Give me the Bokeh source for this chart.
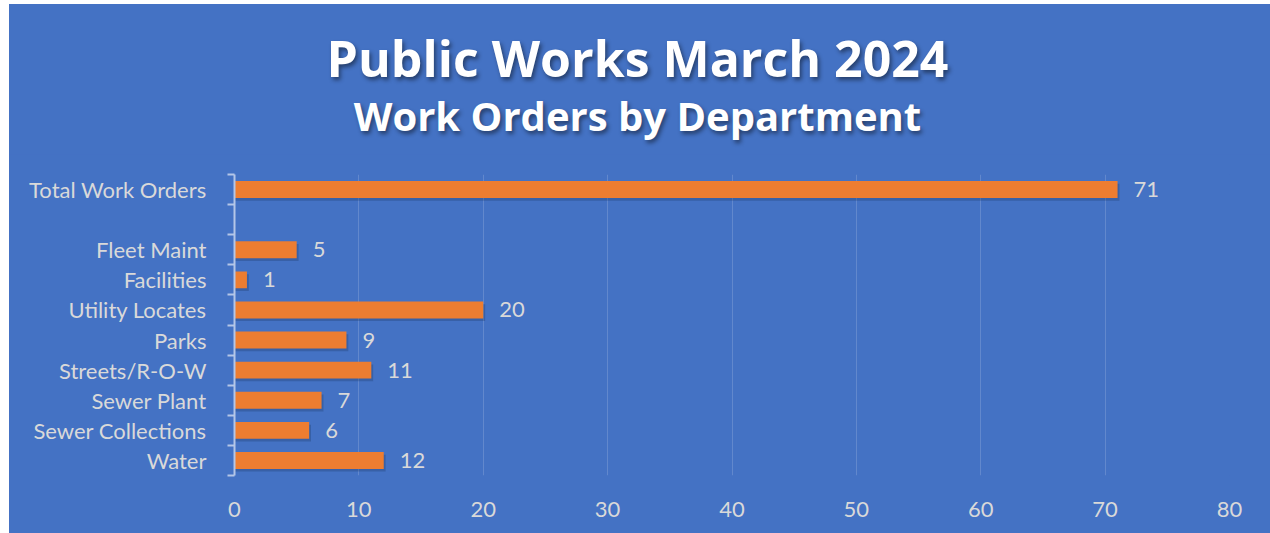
from bokeh.plotting import figure
from bokeh.models import (ColumnDataSource, LinearAxis, FixedTicker, Range1d, Div)
from bokeh.layouts import column
from bokeh.core.properties import value
from bokeh.embed import file_html
from bokeh.resources import INLINE

# data (bottom to top)
categories = ["Water", "Sewer Collections", "Sewer Plant", "Streets/R-O-W", "Parks",
              "Utility Locates", "Facilities", "Fleet Maint", "", "Total Work Orders"]
counts = [12, 6, 7, 11, 9, 20, 1, 5, None, 71]
x_ticks = [0, 10, 20, 30, 40, 50, 60, 70, 80]

title_text = "Public Works March 2024"
subtitle_text = "Work Orders by Department"

BG = "#4472C4"
BAR = "#ED7D31"
TXT = "#D9D9D9"
FONT = "Lato"
W = 1261

n = len(categories)
pos = [i + 0.5 for i in range(n)]
bounds = list(range(n + 1))
bx, by, bl = [], [], []
for c, y in zip(counts, pos):
    if c is not None:
        bx.append(c); by.append(y); bl.append(str(c))
src = ColumnDataSource(dict(x=bx, y=by, label=bl,
                            sy=[v - 0.09 for v in by], sx=[v + 0.15 for v in bx]))

# title block
shadow = "text-shadow:2px 3px 4px rgba(0,0,0,0.45);"
head = Div(width=W, height=150, margin=(0, 0, 0, 0), text=(
    f'<div style="position:relative;width:{W}px;height:150px;background:{BG};'
    f'font-family:\'Open Sans\';font-weight:bold;color:white;">'
    f'<div style="position:absolute;left:0;top:24px;width:{W - 4}px;height:60px;'
    f'line-height:60px;text-align:center;font-size:50px;{shadow}">{title_text}</div>'
    f'<div style="position:absolute;left:0;top:87px;width:{W - 4}px;height:50px;'
    f'line-height:50px;text-align:center;font-size:40px;{shadow}">{subtitle_text}</div>'
    f'</div>'))

p = figure(width=W, height=379, output_backend="svg", toolbar_location=None,
           x_range=Range1d(0, 80), y_range=Range1d(0, n),
           y_axis_location=None, min_border_left=225, min_border_right=41,
           min_border_top=20, min_border_bottom=58)
p.margin = (0, 0, 0, 0)
p.background_fill_color = BG
p.border_fill_color = BG
p.outline_line_color = None

# grid
p.xgrid.ticker = FixedTicker(ticks=x_ticks)
p.xgrid.grid_line_color = "#7C9BD6"
p.xgrid.grid_line_alpha = 0.55
p.ygrid.grid_line_color = None

# x axis
p.xaxis.ticker = FixedTicker(ticks=x_ticks)
p.xaxis.axis_line_color = None
p.xaxis.major_tick_line_color = None
p.xaxis.minor_tick_line_color = None
p.xaxis.major_label_text_color = TXT
p.xaxis.major_label_text_font = FONT
p.xaxis.major_label_text_font_size = "22px"
p.xaxis.major_label_standoff = 20

# y axis: labels at centres, minor ticks at boundaries
yl = LinearAxis(ticker=FixedTicker(ticks=pos, minor_ticks=bounds))
yl.major_label_overrides = {pp: c for pp, c in zip(pos, categories)}
yl.axis_line_color = "#B4C6E7"
yl.axis_line_width = 2
yl.major_tick_line_color = None
yl.major_tick_out = 0
yl.major_tick_in = 0
yl.minor_tick_line_color = "#B4C6E7"
yl.minor_tick_line_width = 2
yl.minor_tick_out = 7
yl.minor_tick_in = 0
yl.major_label_text_color = TXT
yl.major_label_text_font = FONT
yl.major_label_text_font_size = "22px"
yl.major_label_standoff = 21
p.add_layout(yl, "left")

# shadow + bars
p.hbar(y="sy", right="sx", left=0, height=0.56, source=src,
       fill_color="#1F3864", fill_alpha=0.3, line_color=None)
p.hbar(y="y", right="x", left=0, height=0.56, source=src,
       fill_color=BAR, line_color=None)
p.text(x="x", y="y", text="label", source=src, x_offset=16,
       text_align="left", text_baseline="middle", text_color=TXT,
       text_font=value(FONT), text_font_size="22px")

layout = column(head, p, spacing=0, margin=(4, 0, 0, 9), styles={"background": BG})
open("out.html", "w").write(file_html(layout, INLINE))
